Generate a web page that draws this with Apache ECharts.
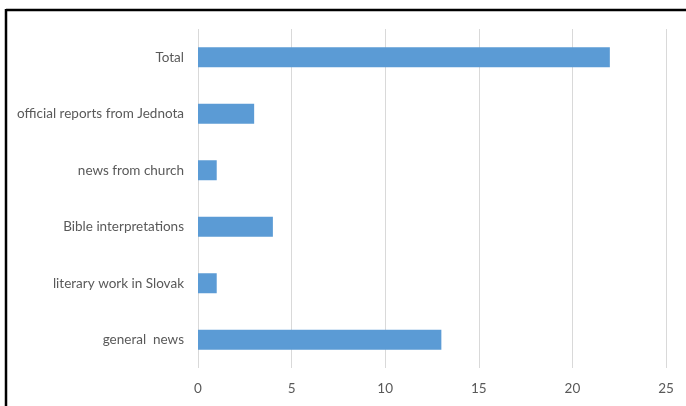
<!DOCTYPE html>
<html>
<head>
<meta charset="utf-8">
<script src="https://cdn.jsdelivr.net/npm/echarts@6/dist/echarts.min.js"></script>
<style>
  html, body { margin: 0; padding: 0; background: #ffffff; }
  #chart { width: 686px; height: 406px; }
</style>
</head>
<body>
<div id="chart"></div>
<script>
// Categories listed top to bottom
const categories = [
  'Total',
  'official reports from Jednota',
  'news from church',
  'Bible interpretations',
  'literary work in Slovak',
  'general  news'
];
const counts = [22, 3, 1, 4, 1, 13];
const xTicks = { min: 0, max: 25, interval: 5 };

const chart = echarts.init(document.getElementById('chart'), null, { renderer: 'canvas' });
const labelFont = 'Lato, "Noto Sans", sans-serif';

chart.setOption({
  animation: false,
  backgroundColor: '#ffffff',
  grid: { left: 198, right: 20, top: 29, bottom: 38, containLabel: false },
  xAxis: {
    type: 'value',
    min: xTicks.min,
    max: xTicks.max,
    interval: xTicks.interval,
    axisLine: { show: false },
    axisTick: { show: false },
    axisLabel: { color: '#595959', fontSize: 13.5, fontFamily: labelFont, margin: 14 },
    splitLine: { show: true, lineStyle: { color: '#d9d9d9', width: 1 } }
  },
  yAxis: {
    type: 'category',
    inverse: true,
    data: categories,
    axisLine: { show: false },
    axisTick: { show: false },
    axisLabel: { color: '#595959', fontSize: 13.5, fontFamily: labelFont, margin: 14 }
  },
  series: [{
    type: 'bar',
    data: counts,
    barWidth: 20,
    itemStyle: { color: '#5b9bd5' }
  }],
  graphic: [
    { type: 'line', shape: { x1: 6, y1: 10, x2: 686, y2: 10 }, style: { stroke: '#000', lineWidth: 2.5 } },
    { type: 'line', shape: { x1: 6, y1: 9, x2: 6, y2: 406 }, style: { stroke: '#000', lineWidth: 2.5 } }
  ]
});
</script>
</body>
</html>
